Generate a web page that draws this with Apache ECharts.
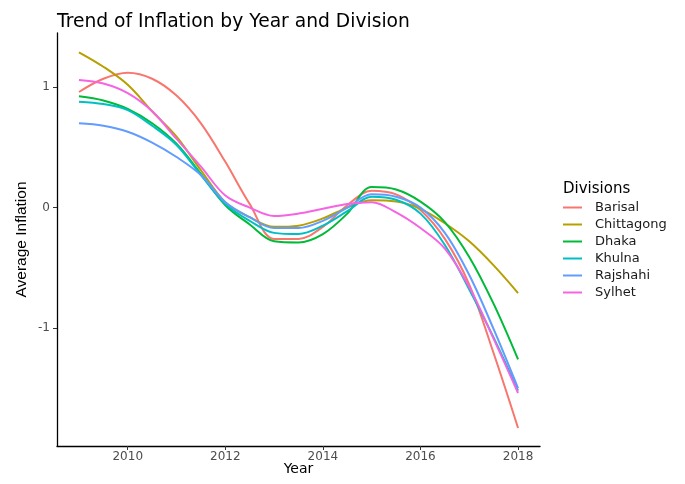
<!DOCTYPE html>
<html lang="en" style="height: 100%">
   <head>
      <meta charset="utf-8">
   </head>
   <body style="height: 100%; margin: 0">
      <div id="container" style="width: 685px; height: 484px"></div>
      <script type="text/javascript" src="https://fastly.jsdelivr.net/npm/echarts@6.0.0/dist/echarts.min.js"></script>
      <script type="text/javascript">
var years = [2009, 2009.5, 2010, 2010.5, 2011, 2011.5, 2012, 2012.5, 2013, 2013.5, 2014, 2014.5, 2015, 2015.5, 2016, 2016.5, 2017, 2017.5, 2018];
var divisions = ['Barisal', 'Chittagong', 'Dhaka', 'Khulna', 'Rajshahi', 'Sylhet'];
var barisal    = [0.96, 1.07, 1.12, 1.07, 0.93, 0.70, 0.38, 0.03, -0.26, -0.26, -0.16, 0.02, 0.14, 0.11, -0.02, -0.26, -0.64, -1.21, -1.83];
var chittagong = [1.29, 1.17, 1.02, 0.80, 0.59, 0.31, 0.045, -0.08, -0.16, -0.15, -0.09, 0.0, 0.06, 0.05, -0.01, -0.13, -0.28, -0.48, -0.71];
var dhaka      = [0.925, 0.89, 0.82, 0.70, 0.53, 0.28, 0.02, -0.14, -0.28, -0.29, -0.22, -0.05, 0.17, 0.15, 0.05, -0.12, -0.41, -0.80, -1.26];
var khulna     = [0.88, 0.86, 0.81, 0.68, 0.52, 0.27, 0.03, -0.11, -0.21, -0.22, -0.15, -0.03, 0.09, 0.065, -0.05, -0.31, -0.68, -1.08, -1.52];
var rajshahi   = [0.70, 0.68, 0.63, 0.54, 0.42, 0.27, 0.045, -0.08, -0.17, -0.17, -0.11, 0.0, 0.11, 0.09, 0.0, -0.21, -0.56, -1.01, -1.50];
var sylhet     = [1.06, 1.03, 0.95, 0.80, 0.57, 0.34, 0.10, 0.0, -0.07, -0.05, -0.01, 0.03, 0.045, -0.04, -0.17, -0.34, -0.66, -1.09, -1.54];
var xTicks = [2010, 2012, 2014, 2016, 2018];
var yTicks = [-1, 0, 1];

var colors = ['#F8766D', '#B79F00', '#00BA38', '#00BFC4', '#619CFF', '#F564E3'];
var values = [barisal, chittagong, dhaka, khulna, rajshahi, sylhet];

var dom = document.getElementById('container');
var myChart = echarts.init(dom, null, { renderer: 'canvas' });

var font = 'Liberation Sans, Arial, sans-serif';
var wide = 'DejaVu Sans, sans-serif';

var option = {
  animation: false,
  color: colors,
  title: [{
    text: 'Trend of Inflation by Year and Division',
    left: 52,
    top: 8,
    textStyle: { fontFamily: wide, fontSize: 18.7, fontWeight: 'normal', color: '#000' }
  }, {
    text: 'Divisions',
    left: 558,
    top: 177,
    textStyle: { fontFamily: wide, fontSize: 15, fontWeight: 'normal', color: '#000' }
  }],
  legend: {
    orient: 'vertical',
    left: 558,
    top: 196,
    icon: 'rect',
    itemWidth: 19,
    itemHeight: 2,
    itemGap: 4,
    data: divisions,
    textStyle: { fontFamily: wide, fontSize: 13, color: '#1a1a1a', padding: [0, 0, 0, 8], lineHeight: 13 }
  },
  grid: { left: 57, right: 145, top: 33, bottom: 38, outerBoundsMode: 'none' },
  xAxis: {
    type: 'value',
    min: 2008.55,
    max: 2018.45,
    name: 'Year',
    nameLocation: 'middle',
    nameGap: 16,
    nameMoveOverlap: false,
    nameTextStyle: { fontFamily: wide, fontSize: 14, color: '#000' },
    splitLine: { show: false },
    axisLine: { onZero: false, lineStyle: { color: '#000', width: 1.3 } },
    axisTick: { length: 4, lineStyle: { color: '#333' }, customValues: xTicks },
    axisLabel: {
      fontFamily: wide, fontSize: 12, color: '#4d4d4d', margin: 5, customValues: xTicks,
      formatter: function (v) { return String(v); }
    }
  },
  yAxis: {
    type: 'value',
    min: -1.98,
    max: 1.45,
    name: 'Average Inflation',
    nameLocation: 'middle',
    nameGap: 27,
    nameMoveOverlap: false,
    nameTextStyle: { fontFamily: font, fontSize: 15.5, color: '#000' },
    splitLine: { show: false },
    axisLine: { show: true, onZero: false, lineStyle: { color: '#000', width: 1.3 } },
    axisTick: { show: true, length: 4, lineStyle: { color: '#333' }, customValues: yTicks },
    axisLabel: { fontFamily: wide, fontSize: 12, color: '#4d4d4d', margin: 7, customValues: yTicks }
  },
  series: divisions.map(function (name, i) {
    return {
      name: name,
      type: 'line',
      smooth: 0.35,
      showSymbol: false,
      lineStyle: { width: 2 },
      data: years.map(function (y, j) { return [y, values[i][j]]; })
    };
  })
};

myChart.setOption(option);
window.addEventListener('resize', myChart.resize);
      </script>
   </body>
</html>
